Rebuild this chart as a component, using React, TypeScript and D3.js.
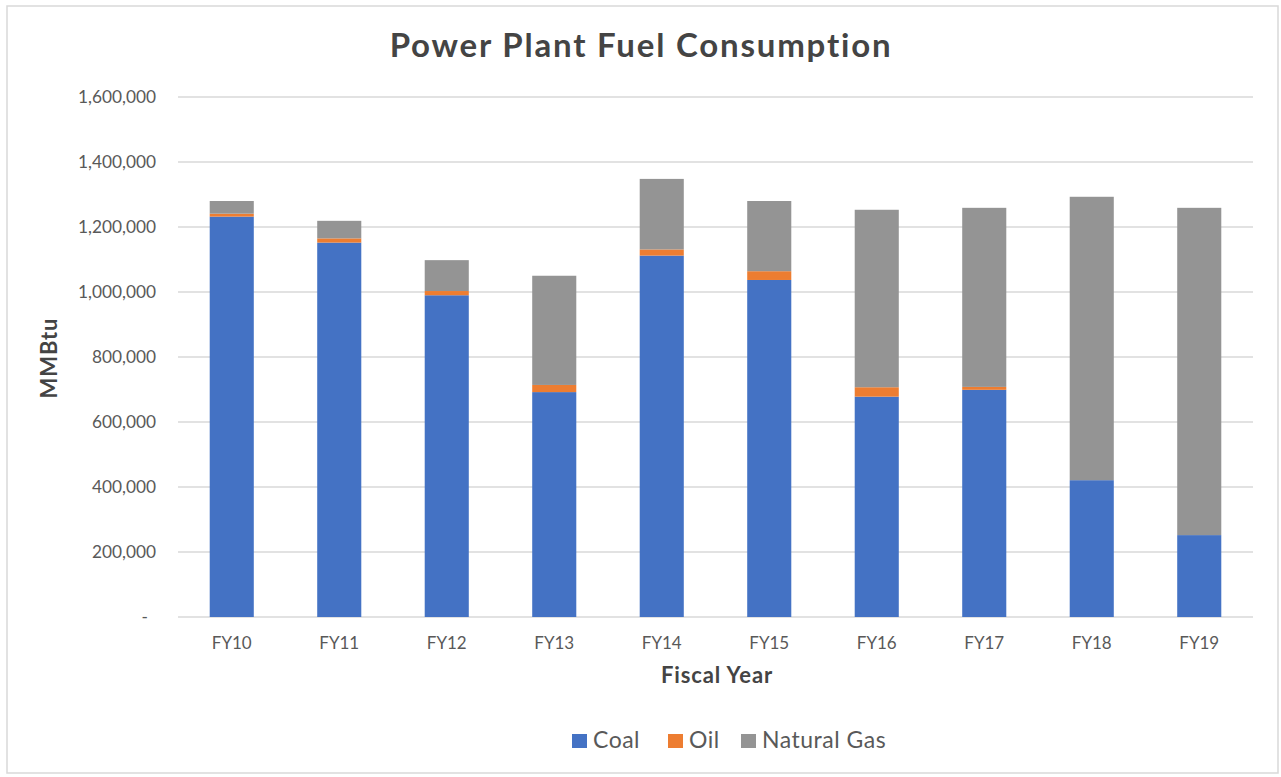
import React from "react";
import * as d3 from "d3";

const categories = ["FY10", "FY11", "FY12", "FY13", "FY14", "FY15", "FY16", "FY17", "FY18", "FY19"];
const coal = [1232000, 1152000, 990000, 692000, 1112000, 1037000, 678000, 699000, 421000, 252000];
const oil = [9000, 13000, 13000, 22000, 19000, 27000, 29000, 9000, 0, 0];
const naturalGas = [39000, 54000, 95000, 336000, 217000, 216000, 546000, 551000, 872000, 1007000];
const seriesNames = ["Coal", "Oil", "Natural Gas"];
const seriesColors = ["#4472C4", "#ED7D31", "#949494"];
const yTicks = [0, 200000, 400000, 600000, 800000, 1000000, 1200000, 1400000, 1600000];

const W = 1281;
const H = 777;
const FONT = "Lato, 'Open Sans', sans-serif";

export default function App() {
  const left = 178;
  const right = 1253;
  const top = 97;
  const bottom = 617;

  const x = d3.scaleBand<string>().domain(categories).range([left, right]).paddingInner(0.59).paddingOuter(0.295);
  const y = d3.scaleLinear().domain([0, 1600000]).range([bottom, top]);

  const rows = categories.map((c, i) => ({ cat: c, Coal: coal[i], Oil: oil[i], "Natural Gas": naturalGas[i] }));
  const stacked = d3.stack<any>().keys(seriesNames)(rows);
  const fmt = d3.format(",");

  const legendItems = [
    { name: "Coal", x: 572 },
    { name: "Oil", x: 668 },
    { name: "Natural Gas", x: 741 },
  ];

  return (
    <svg width={W} height={H} style={{ position: "absolute", left: 0, top: 0, display: "block" }} fontFamily={FONT}>
      <rect x={0} y={0} width={W} height={H} fill="#fff" />
      <rect x={7} y={6} width={1271} height={767} fill="#fff" stroke="#d9d9d9" strokeWidth={1.5} />
      <text x={641} y={57} textAnchor="middle" fontSize={33} fontWeight={700} fill="#444" letterSpacing={1.8}>
        Power Plant Fuel Consumption
      </text>
      {yTicks.map((t) => (
        <g key={t}>
          <line x1={left} x2={right} y1={y(t)} y2={y(t)} stroke="#d9d9d9" strokeWidth={1.5} />
          <text x={t === 0 ? 148 : 156} y={y(t) + 6} textAnchor="end" fontSize={17.3} fill="#595959">
            {t === 0 ? "-" : fmt(t)}
          </text>
        </g>
      ))}
      {stacked.map((s, si) => (
        <g key={s.key} fill={seriesColors[si]}>
          {s.map((d: any, i: number) => (
            <rect
              key={i}
              x={x(categories[i])}
              width={x.bandwidth()}
              y={y(d[1])}
              height={Math.max(0, y(d[0]) - y(d[1]))}
            />
          ))}
        </g>
      ))}
      {categories.map((c) => (
        <text key={c} x={(x(c) as number) + x.bandwidth() / 2} y={649} textAnchor="middle" fontSize={17} fill="#595959">
          {c}
        </text>
      ))}
      <text x={717} y={683} textAnchor="middle" fontSize={22} fontWeight={700} fill="#444" letterSpacing={0.9}>
        Fiscal Year
      </text>
      <text transform={`translate(57,358) rotate(-90)`} textAnchor="middle" fontSize={22} fontWeight={700} fill="#444" letterSpacing={0.9}>
        MMBtu
      </text>
      {legendItems.map((l, i) => (
        <g key={l.name}>
          <rect x={l.x} y={734} width={15} height={14} fill={seriesColors[i]} />
          <text x={l.x + 21} y={748} fontSize={23} fill="#595959" letterSpacing={0.5}>
            {l.name}
          </text>
        </g>
      ))}
    </svg>
  );
}
